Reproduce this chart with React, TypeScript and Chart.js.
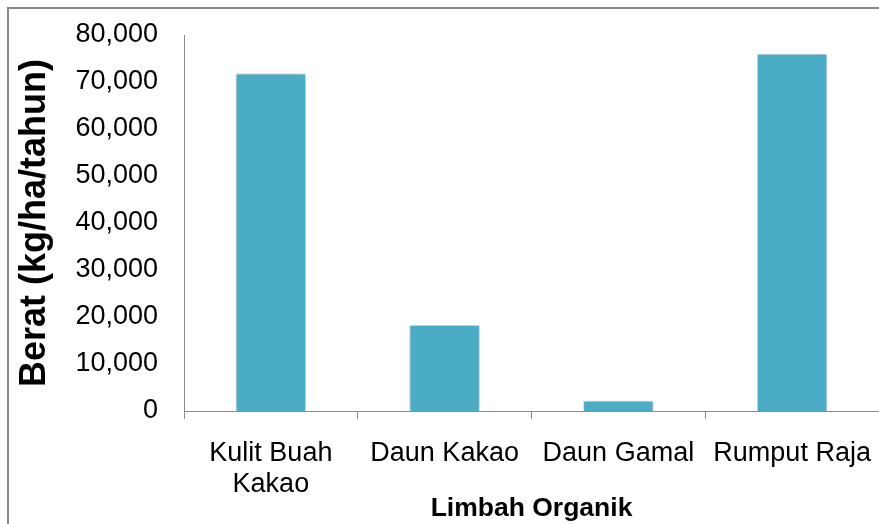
import React, { useEffect, useRef } from "react";
import { Chart, registerables } from "chart.js";

Chart.register(...registerables);

// Limbah organik per kategori (kg/ha/tahun)
const categories: (string | string[])[] = [
  ["Kulit Buah", "Kakao"],
  "Daun Kakao",
  "Daun Gamal",
  "Rumput Raja",
];
const beratValues: number[] = [71800, 18300, 2200, 76000];
const yTicks: number[] = [0, 10000, 20000, 30000, 40000, 50000, 60000, 70000, 80000];

const FONT = "'Liberation Sans', Arial, sans-serif";
const BAR_COLOR = "#4BACC6";
const AXIS_COLOR = "#8c8c8c";

// soft shadow around the bars
const barShadow = {
  id: "barShadow",
  beforeDatasetsDraw(chart: any) {
    const ctx = chart.ctx;
    ctx.save();
    ctx.shadowColor = "rgba(0,0,0,0.35)";
    ctx.shadowBlur = 6;
    ctx.shadowOffsetX = 0;
    ctx.shadowOffsetY = 0;
  },
  afterDatasetsDraw(chart: any) {
    chart.ctx.restore();
  },
};

export default function App() {
  const canvasRef = useRef<HTMLCanvasElement | null>(null);

  useEffect(() => {
    if (!canvasRef.current) return;
    const chart = new Chart(canvasRef.current, {
      type: "bar",
      data: {
        labels: categories,
        datasets: [
          {
            label: "Berat",
            data: beratValues,
            backgroundColor: BAR_COLOR,
            borderColor: "rgba(225,242,247,0.95)",
            borderWidth: 1,
            barPercentage: 0.405,
            categoryPercentage: 1,
          },
        ],
      },
      options: {
        responsive: false,
        animation: false,
        devicePixelRatio: 1,
        layout: { padding: { top: 35, left: 0, right: 0, bottom: 0 } },
        plugins: {
          legend: { display: false },
          tooltip: { enabled: false },
        },
        scales: {
          x: {
            offset: true,
            grid: {
              display: true,
              offset: true,
              drawOnChartArea: false,
              drawTicks: true,
              tickLength: 8,
              color: AXIS_COLOR,
              lineWidth: 1,
            },
            border: { display: true, color: AXIS_COLOR, width: 1 },
            ticks: {
              color: "#000",
              padding: 19,
              maxRotation: 0,
              autoSkip: false,
              font: { family: FONT, size: 27, lineHeight: 1.15 },
            },
            title: {
              display: true,
              text: "Limbah Organik",
              color: "#000",
              padding: { top: 0, bottom: 0 },
              font: { family: FONT, size: 26.5, weight: "bold", lineHeight: 1.15 },
            },
            afterFit(scale: any) {
              scale.height = 113;
              scale.paddingLeft = 0;
              scale.paddingRight = 0;
            },
          },
          y: {
            min: 0,
            max: 80000,
            afterBuildTicks(scale: any) {
              scale.ticks = yTicks.map((v) => ({ value: v }));
            },
            grid: { display: false, drawTicks: false },
            border: { display: true, color: AXIS_COLOR, width: 1 },
            ticks: {
              color: "#000",
              padding: 26,
              font: { family: FONT, size: 27 },
              callback: (v: any) => Number(v).toLocaleString("en-US"),
            },
            title: {
              display: true,
              text: "Berat (kg/ha/tahun)",
              color: "#000",
              padding: { top: 13, bottom: 0 },
              font: { family: FONT, size: 36, weight: "bold", lineHeight: 1.2 },
            },
            afterFit(scale: any) {
              scale.width = 184;
              scale.paddingTop = 0;
              scale.paddingBottom = 0;
            },
          },
        },
      },
      plugins: [barShadow],
    });
    return () => chart.destroy();
  }, []);

  return (
    <div style={{ position: "relative", width: 879, height: 524, overflow: "hidden", background: "#fff" }}>
      <style>{`body{margin:0;overflow:hidden;background:#fff}`}</style>
      <canvas
        ref={canvasRef}
        width={879}
        height={524}
        style={{ display: "block", width: 879, height: 524 }}
      />
      <div
        style={{
          position: "absolute",
          left: 7,
          top: 7,
          width: 1000,
          height: 1000,
          borderLeft: "2px solid #8a8a8a",
          borderTop: "2px solid #8a8a8a",
          pointerEvents: "none",
        }}
      />
    </div>
  );
}
